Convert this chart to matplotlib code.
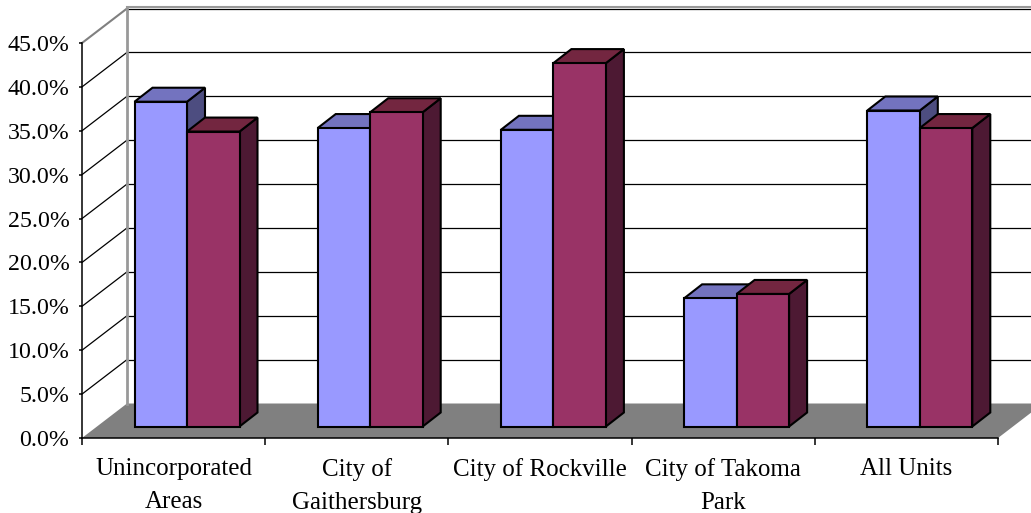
import matplotlib
matplotlib.use("Agg")
import matplotlib.pyplot as plt
from matplotlib.patches import Polygon

categories = ["Unincorporated\nAreas", "City of\nGaithersburg", "City of Rockville",
              "City of Takoma\nPark", "All Units"]
series_a = [37.0, 34.0, 33.8, 14.6, 36.0]
series_b = [33.6, 35.8, 41.4, 15.1, 34.0]
y_ticks = [0, 5, 10, 15, 20, 25, 30, 35, 40, 45]

W, H = 1031, 513
plt.rcParams['font.family'] = ['Liberation Serif', 'DejaVu Serif']

fig = plt.figure(figsize=(W / 100, H / 100), dpi=100)
left, right, bottom, top = 82, 998, 438, 43
ax = fig.add_axes([left / W, 1 - bottom / H, (right - left) / W, (bottom - top) / H])
ax.set_xlim(0, 5)
ax.set_ylim(0, 45)
ax.patch.set_visible(False)

# pixels to data units
px_x = 5 / (right - left)
px_y = 45 / (bottom - top)
wall_dx, wall_dy = 45 * px_x, 34.5 * px_y
bar_dx, bar_dy = 18 * px_x, 14 * px_y
bar_w = 52.5 * px_x
group_x = 52.5 * px_x
base_y = 11.5 * px_y


def poly(pts, face, edge='none', lw=0.0, z=1.0):
    ax.add_patch(Polygon(pts, closed=True, facecolor=face, edgecolor=edge,
                         linewidth=lw, zorder=z, clip_on=False, joinstyle='miter'))


# floor
poly([(0, 0), (wall_dx, wall_dy), (5 + wall_dx, wall_dy), (5, 0)], '#808080')

# grid on the back wall and side wall
for t in y_ticks:
    if t > 0:
        col, lw = ('#808080', 1.5) if t == 45 else ('black', 0.9)
        ax.plot([0, wall_dx], [t, t + wall_dy], color=col, lw=lw, zorder=1.1, clip_on=False)
        ax.plot([wall_dx, 5 + wall_dx], [t + wall_dy, t + wall_dy], color='black', lw=0.9,
                zorder=1.1, clip_on=False)
ax.plot([wall_dx, wall_dx], [wall_dy, 45 + wall_dy], color='#999999', lw=2.0, zorder=1.2, clip_on=False)
ax.plot([wall_dx, 5 + wall_dx], [45 + wall_dy + 0.15] * 2, color='#999999', lw=1.5, zorder=1.2, clip_on=False)


def bar(x, val, front, top_c, side, z):
    x1 = x + bar_w
    y0, y1 = base_y, base_y + val
    lw = 1.5
    poly([(x1, y0), (x1 + bar_dx, y0 + bar_dy), (x1 + bar_dx, y1 + bar_dy), (x1, y1)], side, 'black', lw, z)
    poly([(x, y1), (x + bar_dx, y1 + bar_dy), (x1 + bar_dx, y1 + bar_dy), (x1, y1)], top_c, 'black', lw, z)
    poly([(x, y0), (x1, y0), (x1, y1), (x, y1)], front, 'black', lw, z + 0.01)


for i in range(len(categories)):
    x0 = i + group_x
    bar(x0, series_a[i], '#9999FF', '#7373BF', '#4D4D80', 3 + i)
    bar(x0 + bar_w, series_b[i], '#993366', '#732640', '#4D1933', 3.5 + i)

# axes, ticks and labels
for s in ['top', 'right']:
    ax.spines[s].set_visible(False)
for s in ['left', 'bottom']:
    ax.spines[s].set_linewidth(1.1)
    ax.spines[s].set_zorder(2.5)

ax.set_yticks(y_ticks)
ax.set_yticklabels([f"{t:.1f}%" for t in y_ticks], fontsize=17.2)
ax.tick_params(axis='y', length=2, width=1.1, pad=7)

ax.set_xticks(range(6))
ax.set_xticklabels([])
ax.tick_params(axis='x', length=5, width=1.1)
ax.set_xticks([i + 0.5 for i in range(5)], minor=True)
ax.set_xticklabels(categories, minor=True, fontsize=18, linespacing=1.65)
ax.tick_params(axis='x', which='minor', length=0, pad=14.5)

fig.savefig("out.png", dpi=100)
